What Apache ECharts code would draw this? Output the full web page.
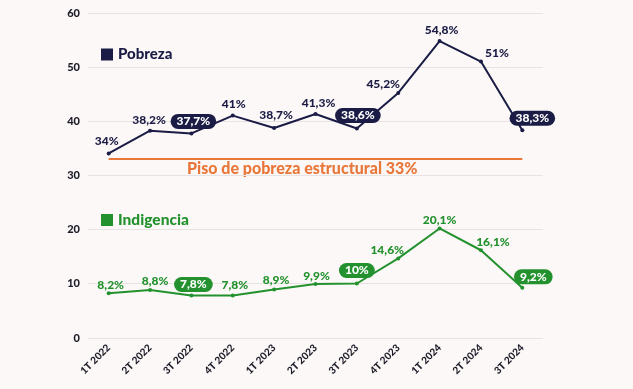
<!DOCTYPE html>
<html>
<head>
<meta charset="utf-8">
<script src="https://cdn.jsdelivr.net/npm/echarts@6/dist/echarts.min.js"></script>
<style>
html,body{margin:0;padding:0;background:#fcf8f7;}
#c{width:633px;height:389px;}
</style>
</head>
<body>
<div id="c"></div>
<script>
const categories = ['1T 2022','2T 2022','3T 2022','4T 2022','1T 2023','2T 2023','3T 2023','4T 2023','1T 2024','2T 2024','3T 2024'];
const pobreza = [34, 38.2, 37.7, 41, 38.7, 41.3, 38.6, 45.2, 54.8, 51, 38.3];
const indigencia = [8.2, 8.8, 7.8, 7.8, 8.9, 9.9, 10, 14.6, 20.1, 16.1, 9.2];
const pisoEstructural = 33;
const highlighted = [2, 6, 10];
const pobrezaTicks = [30, 40, 50, 60];
const indigenciaTicks = [0, 10, 20];

const NAVY = '#1b1c45';
const GREEN = '#23922e';
const ORANGE = '#e8773a';
const FONT = 'Lato, "Open Sans", sans-serif';
const W = 900;

// label offsets (layout only)
const pobOff = [[-2,-12],[-1,-11],[2,-12],[1,-11],[2,-13],[3,-11],[1,-13],[-15,-9],[2,-11],[16,-8],[10,-12]];
const indOff = [[2,-8],[5,-9],[2,-11],[2,-10],[2,-9],[1,-8],[0,-13],[-11,-8],[0,-8],[12,-8],[11,-11]];

function fmt(v){ return String(v).replace('.', ',') + '%'; }

function buildData(vals, offs, color){
  return vals.map((v,i)=>{
    const badge = highlighted.indexOf(i) >= 0;
    return {
      value: v,
      label: {
        show: true,
        position: 'inside',
        offset: offs[i],
        formatter: fmt(v),
        color: badge ? '#ffffff' : color,
        backgroundColor: badge ? color : 'transparent',
        borderRadius: 8,
        padding: badge ? [2,6,1,6] : 0,
        fontSize: 12,
        fontWeight: W,
        fontFamily: FONT
      }
    };
  });
}

const chart = echarts.init(document.getElementById('c'));
chart.setOption({
  backgroundColor: '#fcf8f7',
  animation: false,
  legend: [
    {data:[{name:'Pobreza'}], left: 96, top: 42, icon:'rect', itemWidth: 12, itemHeight: 12, itemGap: 6,
     textStyle:{color: NAVY, fontSize: 15, fontWeight: W, fontFamily: FONT}},
    {data:[{name:'Indigencia'}], left: 96, top: 207, icon:'rect', itemWidth: 12, itemHeight: 12, itemGap: 6,
     textStyle:{color: GREEN, fontSize: 15.5, fontWeight: W, fontFamily: FONT}}
  ],
  grid: [
    {left: 88, top: 13, width: 455, height: 162},
    {left: 88, top: 229, width: 455, height: 109}
  ],
  xAxis: [
    {type:'category', gridIndex:0, data: categories, boundaryGap: true,
     axisLine:{show:false}, axisTick:{show:false}, axisLabel:{show:false}},
    {type:'category', gridIndex:1, data: categories, boundaryGap: true,
     axisLine:{show:false}, axisTick:{show:false},
     axisLabel:{rotate: 45, color:'#1e1e2a', fontSize: 10, fontWeight: W, fontFamily: FONT, margin: 8, interval: 0}}
  ],
  yAxis: [
    {type:'value', gridIndex:0, min: pobrezaTicks[0], max: pobrezaTicks[pobrezaTicks.length-1], interval: 10,
     axisLine:{show:false}, axisTick:{show:false},
     axisLabel:{color:'#1e1e2a', fontSize: 11, fontWeight: W, fontFamily: FONT, margin: 8},
     splitLine:{lineStyle:{color:'#e7e3e2', width: 1}}},
    {type:'value', gridIndex:1, min: indigenciaTicks[0], max: indigenciaTicks[indigenciaTicks.length-1], interval: 10,
     axisLine:{show:false}, axisTick:{show:false},
     axisLabel:{color:'#1e1e2a', fontSize: 11, fontWeight: W, fontFamily: FONT, margin: 8},
     splitLine:{lineStyle:{color:'#e7e3e2', width: 1}}}
  ],
  series: [
    {name:'Pobreza', type:'line', xAxisIndex:0, yAxisIndex:0, clip:false,
     data: buildData(pobreza, pobOff, NAVY),
     itemStyle:{color: NAVY}, lineStyle:{color: NAVY, width: 2},
     symbol:'circle', symbolSize: 4, z: 5,
     markLine:{silent:true, symbol:'none', label:{show:false},
       lineStyle:{color: ORANGE, width: 2, type:'solid'},
       data:[[{coord:[categories[0], pisoEstructural]}, {coord:[categories[categories.length-1], pisoEstructural]}]]}
    },
    {name:'Indigencia', type:'line', xAxisIndex:1, yAxisIndex:1, clip:false,
     data: buildData(indigencia, indOff, GREEN),
     itemStyle:{color: GREEN}, lineStyle:{color: GREEN, width: 2},
     symbol:'circle', symbolSize: 4, z: 5}
  ],
  graphic: [
    {type:'text', left: 187, top: 161,
     style:{text:'Piso de pobreza estructural ' + pisoEstructural + '%', fill: ORANGE, fontSize: 16, fontWeight: W, fontFamily: FONT}}
  ]
});
</script>
</body>
</html>
